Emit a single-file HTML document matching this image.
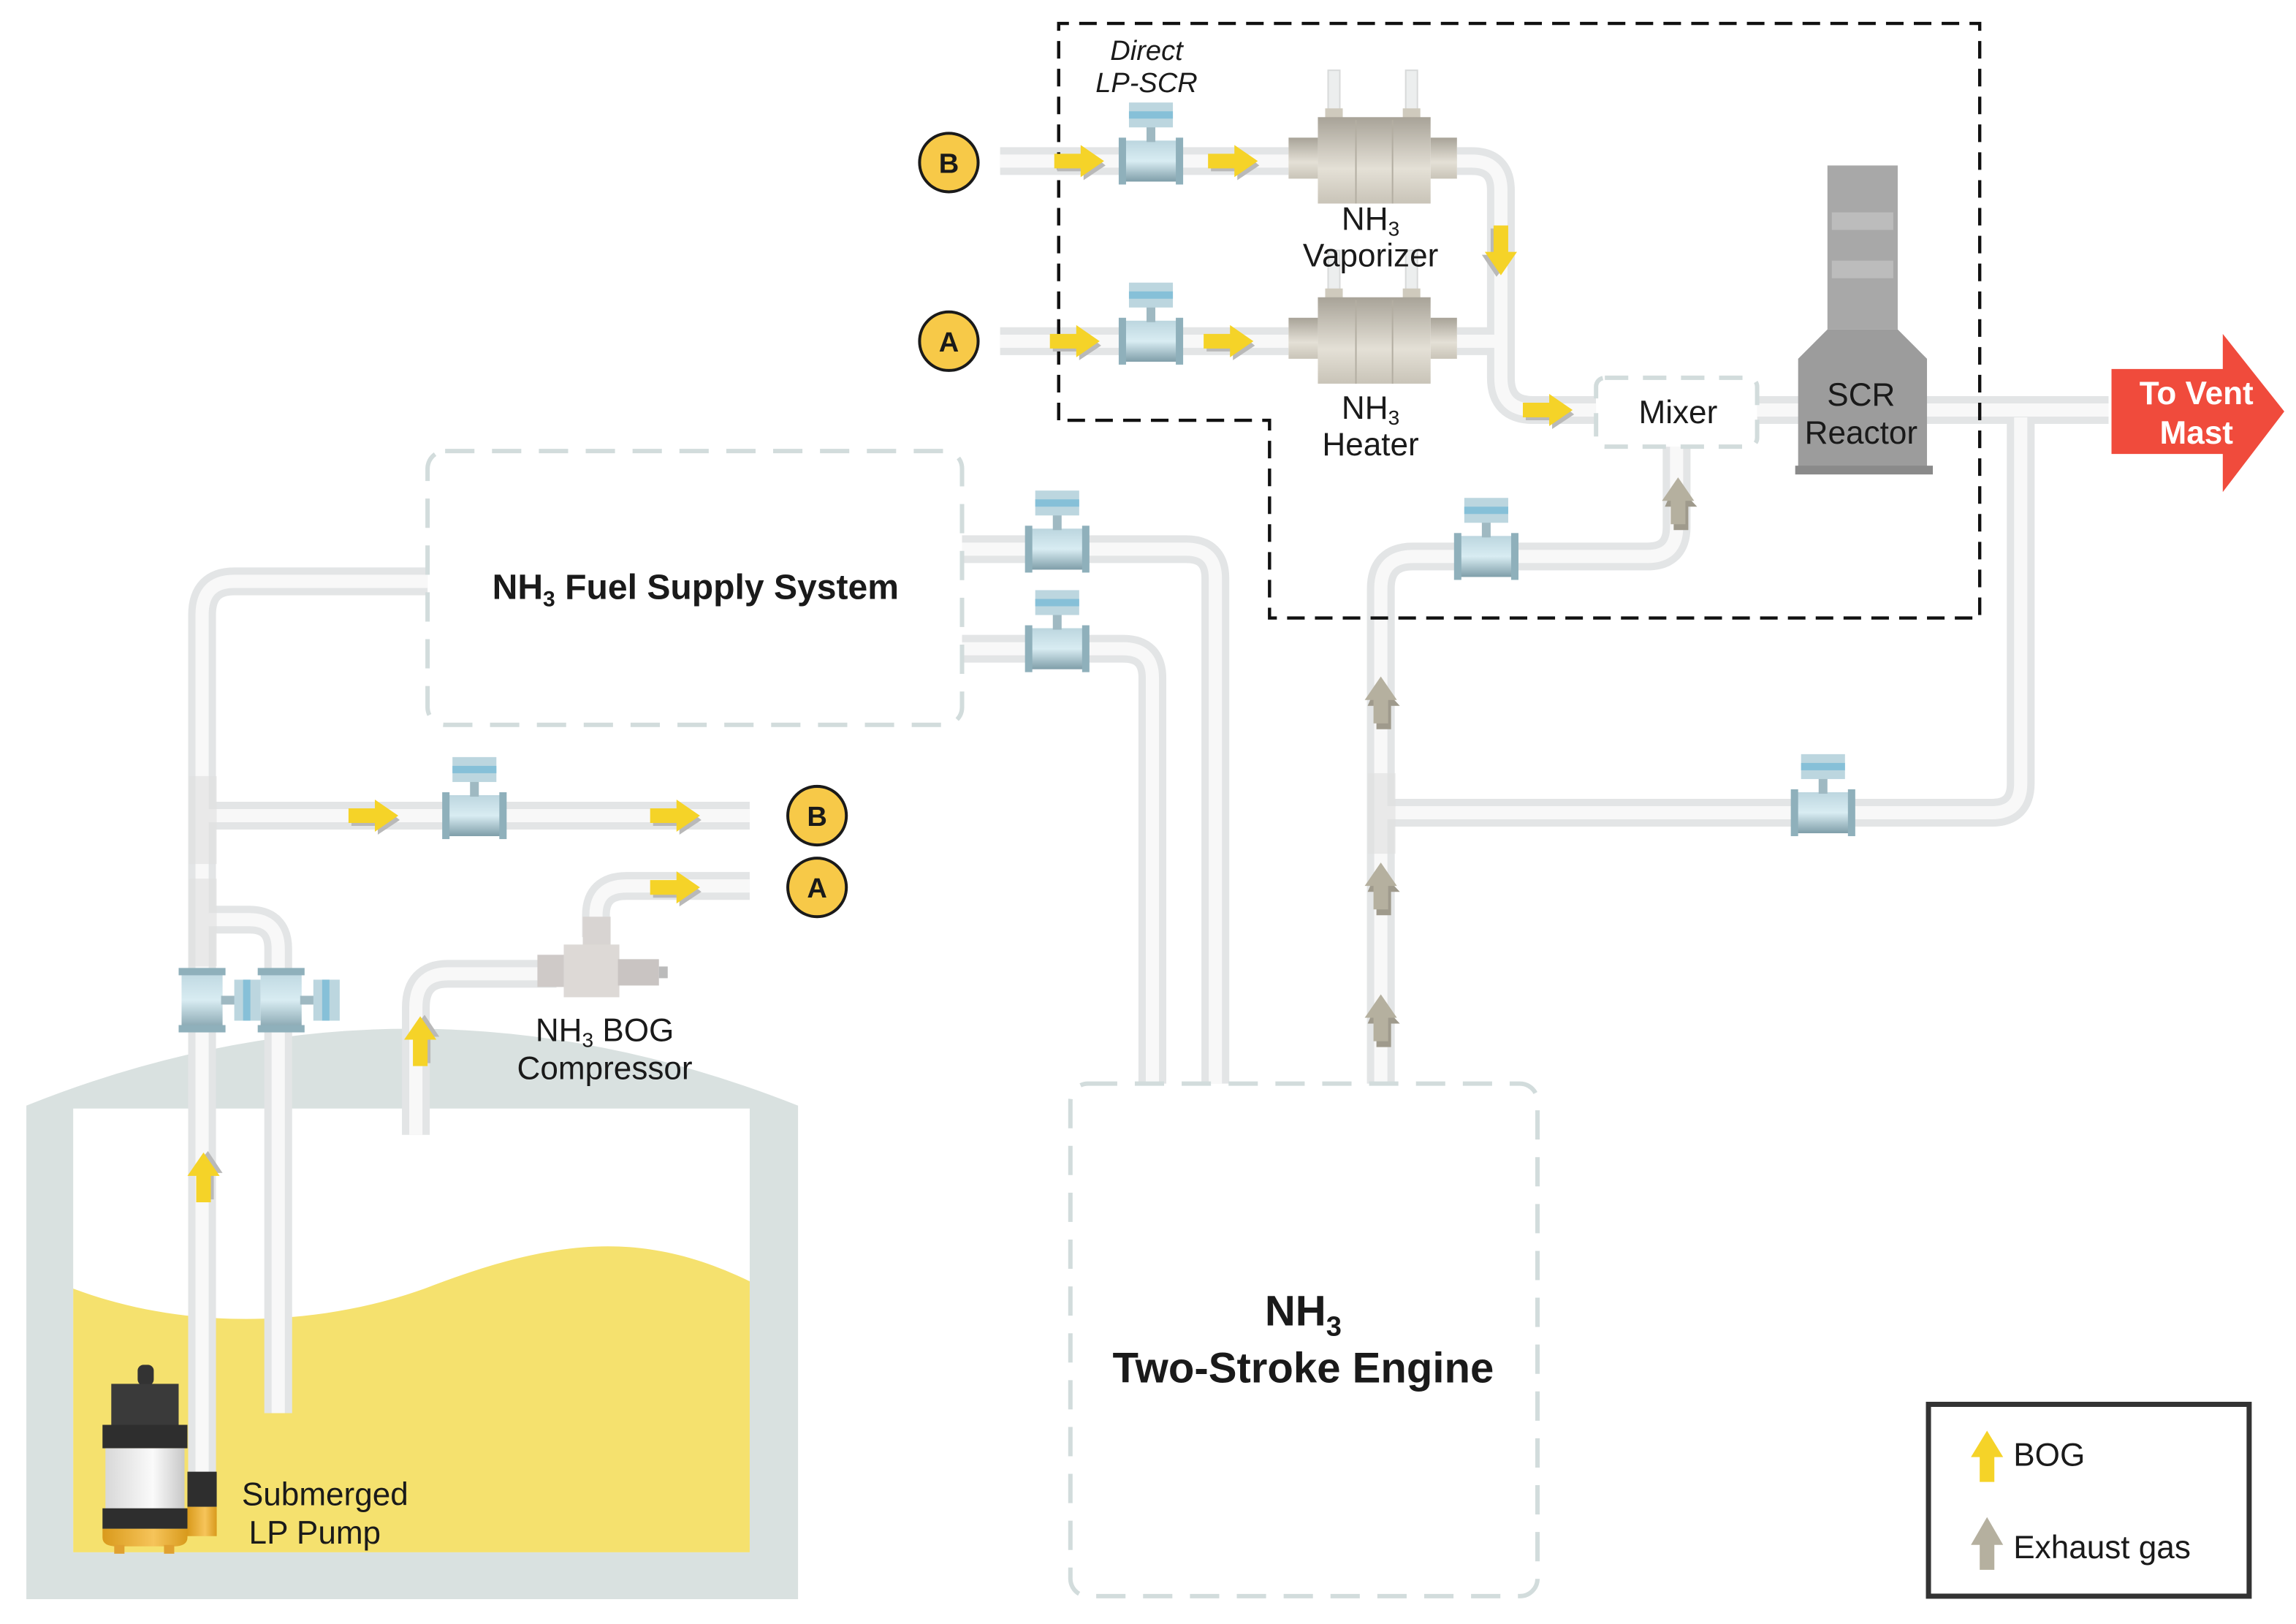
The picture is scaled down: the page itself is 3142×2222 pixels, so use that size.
<!DOCTYPE html>
<html><head><meta charset="utf-8"><style>
html,body{margin:0;padding:0;background:#fff;}
svg{display:block;}
text{font-family:"Liberation Sans",sans-serif;fill:#1a1a1a;}
</style></head><body>
<svg width="3142" height="2222" viewBox="0 0 1568 1109" preserveAspectRatio="none" xmlns="http://www.w3.org/2000/svg">
<defs>
<linearGradient id="fm" x1="0" y1="0" x2="0" y2="1"><stop offset="0" stop-color="#bcd6df"/><stop offset="0.5" stop-color="#d8ecf2"/><stop offset="1" stop-color="#7f9ea9"/></linearGradient>
<linearGradient id="vap" x1="0" y1="0" x2="0" y2="1"><stop offset="0" stop-color="#a8a398"/><stop offset="0.6" stop-color="#e4e0d6"/><stop offset="1" stop-color="#c9c4b8"/></linearGradient>
<linearGradient id="pumpw" x1="0" y1="0" x2="1" y2="0"><stop offset="0" stop-color="#d8d8d8"/><stop offset="0.6" stop-color="#fafafa"/><stop offset="1" stop-color="#c8c8c8"/></linearGradient>
<linearGradient id="pumpo" x1="0" y1="0" x2="1" y2="0"><stop offset="0" stop-color="#d99a1c"/><stop offset="0.6" stop-color="#f6c45a"/><stop offset="1" stop-color="#d89a1c"/></linearGradient>
<g id="ay"><path d="M-16,-3 H2 V-9 L17,3 L2,13 V7 H-16Z" fill="#b9b9b9"/><path d="M-18,-5 H0 V-11 L16,0 L0,11 V5 H-18Z" fill="#f5d328"/></g>
<g id="ag"><path d="M-4,-14 L11,2 H5 V18 H-5 V2 H-11Z" fill="#9f9a8c" transform="translate(2,2)"/><path d="M0,-16 L11,0 H5 V16 H-5 V0 H-11Z" fill="#b5b09f"/></g>
<g id="fmh"><rect x="-21" y="-14" width="42" height="28" fill="url(#fm)"/><rect x="-22" y="-16" width="5" height="32" fill="#8fb0bb"/><rect x="17" y="-16" width="5" height="32" fill="#8fb0bb"/><rect x="-3" y="-25" width="6" height="12" fill="#9fb9c2"/><rect x="-15" y="-40" width="30" height="17" fill="#bcd6df"/><rect x="-15" y="-34" width="30" height="5" fill="#86c0d8"/></g>
<g id="fmv"><rect x="-14" y="-21" width="28" height="42" fill="url(#fm)"/><rect x="-16" y="-22" width="32" height="5" fill="#8fb0bb"/><rect x="-16" y="17" width="32" height="5" fill="#8fb0bb"/><rect x="13" y="-3" width="12" height="6" fill="#9fb9c2"/><rect x="22" y="-14" width="18" height="28" fill="#bcd6df"/><rect x="28" y="-14" width="5" height="28" fill="#86c0d8"/></g>
<g id="vapz"><rect x="27" y="-32" width="8" height="32" fill="#eceeee" stroke="#d8dada" stroke-width="1"/><rect x="80" y="-32" width="8" height="32" fill="#eceeee" stroke="#d8dada" stroke-width="1"/><rect x="25" y="-6" width="12" height="7" fill="#cfcabd"/><rect x="78" y="-6" width="12" height="7" fill="#cfcabd"/><rect x="0" y="14" width="20" height="28" fill="url(#vap)"/><rect x="97" y="14" width="18" height="28" fill="url(#vap)"/><rect x="20" y="0" width="77" height="59" fill="url(#vap)"/><line x1="46" y1="2" x2="46" y2="59" stroke="#b3aea2" stroke-width="1"/><line x1="71" y1="2" x2="71" y2="59" stroke="#b3aea2" stroke-width="1"/></g>
</defs>

<!-- Tank -->
<path d="M18,755 Q280,650 545,755 V1092 H18Z" fill="#d9e1e0"/>
<rect x="50" y="757" width="462" height="303" fill="#fff"/>
<path d="M50,880 C130,910 220,905 290,880 C380,845 440,840 512,875 V1060 H50Z" fill="#f5e16e"/>

<!-- pipes -->
<g fill="none" stroke-linecap="butt" stroke-linejoin="round">
<g stroke="#e3e5e6" stroke-width="19">
<path d="M138,1010 V420 Q138,397 160,397 H292"/>
<path d="M138,557 H512"/>
<path d="M138,628 H170 Q190,628 190,648 V965"/>
<path d="M284,775 V688 Q284,665 306,665 H380"/>
<path d="M407,640 V625 Q407,605 428,605 H512"/>
<path d="M657,375 H810 Q830,375 830,395 V740"/>
<path d="M657,443 H767 Q787,443 787,463 V740"/>
<path d="M943,740 V402 Q943,380 965,380 H1125 Q1145,380 1145,360 V305"/>
<path d="M943,555 H1360 Q1380,555 1380,535 V285"/>
<path d="M683,110 H880"/><path d="M683,233 H880"/>
<path d="M995,110 H1005 Q1025,110 1025,130 V258 Q1025,280 1047,280 H1090"/>
<path d="M995,233 H1025"/>
<path d="M1200,280 H1440"/>
</g>
<g stroke="#f8f8f8" stroke-width="9">
<path d="M138,1010 V420 Q138,397 160,397 H292"/>
<path d="M138,557 H512"/>
<path d="M138,628 H170 Q190,628 190,648 V965"/>
<path d="M284,775 V688 Q284,665 306,665 H380"/>
<path d="M407,640 V625 Q407,605 428,605 H512"/>
<path d="M657,375 H810 Q830,375 830,395 V740"/>
<path d="M657,443 H767 Q787,443 787,463 V740"/>
<path d="M943,740 V402 Q943,380 965,380 H1125 Q1145,380 1145,360 V305"/>
<path d="M943,555 H1360 Q1380,555 1380,535 V285"/>
<path d="M683,110 H880"/><path d="M683,233 H880"/>
<path d="M995,110 H1005 Q1025,110 1025,130 V258 Q1025,280 1047,280 H1090"/>
<path d="M995,233 H1025"/>
<path d="M1200,280 H1440"/>
</g>
</g>
<rect x="129" y="530" width="19" height="60" fill="#e0e0e0" opacity="0.6"/>
<rect x="129" y="600" width="19" height="60" fill="#e0e0e0" opacity="0.6"/>
<rect x="934" y="528" width="19" height="55" fill="#e0e0e0" opacity="0.6"/>

<!-- pump -->
<g>
<rect x="94" y="932" width="11" height="14" rx="4" fill="#333"/>
<rect x="76" y="945" width="46" height="30" fill="#3a3a3a"/>
<rect x="70" y="973" width="58" height="16" fill="#2e2e2e"/>
<rect x="72" y="989" width="54" height="42" fill="url(#pumpw)"/>
<rect x="70" y="1030" width="58" height="14" fill="#2e2e2e"/>
<path d="M70,1044 H128 V1050 Q128,1056 118,1056 H80 Q70,1056 70,1050Z" fill="url(#pumpo)"/>
<rect x="78" y="1055" width="7" height="6" fill="#e0a030"/><rect x="112" y="1055" width="7" height="6" fill="#e0a030"/>
<rect x="128" y="1005" width="20" height="24" fill="#2e2e2e"/>
<rect x="128" y="1029" width="20" height="20" fill="url(#pumpo)"/>
</g>

<!-- compressor -->
<g>
<rect x="398" y="626" width="19" height="26" fill="#d8d4d2"/>
<rect x="367" y="652" width="20" height="22" fill="#cfcac8"/>
<rect x="385" y="645" width="38" height="36" fill="#ddd9d6"/>
<rect x="422" y="655" width="28" height="18" fill="#c9c4c2"/>
<rect x="450" y="660" width="6" height="8" fill="#bbb"/>
</g>

<!-- flow meters -->
<use href="#fmh" x="324" y="557"/>
<use href="#fmh" x="722" y="375"/>
<use href="#fmh" x="722" y="443"/>
<use href="#fmh" x="1015" y="380"/>
<use href="#fmh" x="1245" y="555"/>
<use href="#fmh" x="786" y="110"/>
<use href="#fmh" x="786" y="233"/>
<use href="#fmv" x="138" y="683"/>
<use href="#fmv" x="192" y="683"/>

<!-- vaporizer/heater -->
<use href="#vapz" x="880" y="80"/>
<use href="#vapz" x="880" y="203"/>

<!-- SCR reactor -->
<rect x="1248" y="113" width="48" height="112" fill="#a8a8a8"/>
<rect x="1251" y="145" width="42" height="12" fill="#bcbcbc"/><rect x="1251" y="178" width="42" height="12" fill="#bcbcbc"/>
<path d="M1248,225 H1296 L1316,245 V320 H1228 V245Z" fill="#9c9c9c"/>
<rect x="1226" y="318" width="94" height="6" fill="#8a8a8a"/>

<!-- red arrow -->
<path d="M1442,252 H1518 V228 L1560,281 L1518,336 V310 H1442Z" fill="#f04b3c"/>

<!-- boxes -->
<rect x="292" y="308" width="365" height="187" rx="12" fill="none" stroke="#d2dcdc" stroke-width="3" stroke-dasharray="20,12"/>
<rect x="731" y="740" width="319" height="350" rx="12" fill="none" stroke="#d2dcdc" stroke-width="3" stroke-dasharray="20,12"/>
<rect x="1090" y="258" width="110" height="47" rx="6" fill="#fff" stroke="#d2dcdc" stroke-width="3" stroke-dasharray="16,10"/>
<path d="M723,287 V16 H1352 V422 H867 V287Z" fill="none" stroke="#111" stroke-width="2.2" stroke-dasharray="12,7"/>
<rect x="1317" y="959" width="219" height="131" fill="#fff" stroke="#333" stroke-width="3.5"/>

<!-- flow arrows -->
<use href="#ay" x="256" y="557"/><use href="#ay" x="462" y="557"/><use href="#ay" x="462" y="606"/>
<use href="#ay" x="738" y="110"/><use href="#ay" x="843" y="110"/>
<use href="#ay" x="735" y="233"/><use href="#ay" x="840" y="233"/>
<use href="#ay" x="1058" y="280"/>
<use href="#ay" transform="translate(1025,172) rotate(90)"/>
<use href="#ay" transform="translate(139,803) rotate(-90)"/>
<use href="#ay" transform="translate(287,710) rotate(-90)"/>
<use href="#ag" x="943" y="478"/><use href="#ag" x="943" y="605"/><use href="#ag" x="943" y="695"/>
<use href="#ag" x="1146" y="342"/>
<path d="M1357,977 L1368,995 H1362 V1012 H1352 V995 H1346Z" fill="#f5d328"/>
<path d="M1357,1036 L1368,1055 H1362 V1072 H1352 V1055 H1346Z" fill="#b5b09f"/>

<!-- circles -->
<g stroke="#1a1a1a" stroke-width="2" fill="#f7c948">
<circle cx="558" cy="557" r="20"/><circle cx="558" cy="606" r="20"/>
<circle cx="648" cy="111" r="20"/><circle cx="648" cy="233" r="20"/>
</g>
<g font-weight="bold" font-size="19" text-anchor="middle">
<text x="558" y="564">B</text><text x="558" y="613">A</text>
<text x="648" y="118">B</text><text x="648" y="240">A</text>
</g>

<!-- labels -->
<g font-size="22" text-anchor="middle">
<text x="475" y="409" font-weight="bold" font-size="24">NH<tspan font-size="15" dy="5">3</tspan><tspan dy="-5"> Fuel Supply System</tspan></text>
<text x="890" y="905" font-weight="bold" font-size="29">NH<tspan font-size="19" dy="7">3</tspan></text>
<text x="890" y="944" font-weight="bold" font-size="29">Two-Stroke Engine</text>
<text x="413" y="711">NH<tspan font-size="14" dy="4">3</tspan><tspan dy="-4"> BOG</tspan></text>
<text x="413" y="737">Compressor</text>
<text x="222" y="1028">Submerged</text>
<text x="215" y="1054">LP Pump</text>
<text x="936" y="157">NH<tspan font-size="14" dy="4">3</tspan></text>
<text x="936" y="182">Vaporizer</text>
<text x="936" y="286">NH<tspan font-size="14" dy="4">3</tspan></text>
<text x="936" y="311">Heater</text>
<text x="1146" y="289">Mixer</text>
<text x="1271" y="277">SCR</text>
<text x="1271" y="303">Reactor</text>
<text x="1500" y="276" style="fill:#fff" font-weight="bold">To Vent</text>
<text x="1500" y="303" style="fill:#fff" font-weight="bold">Mast</text>
<text x="783" y="41" font-style="italic" font-size="19">Direct</text>
<text x="783" y="63" font-style="italic" font-size="19">LP-SCR</text>
</g>
<text x="1375" y="1001" font-size="22">BOG</text>
<text x="1375" y="1064" font-size="22">Exhaust gas</text>
</svg>
</body></html>
